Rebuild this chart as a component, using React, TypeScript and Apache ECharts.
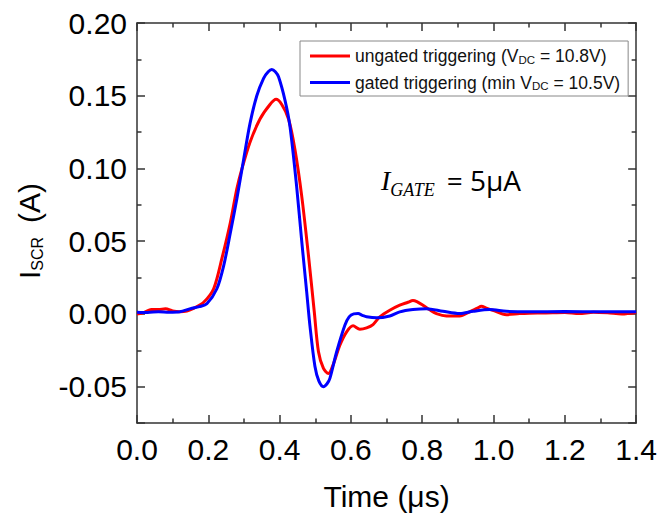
import React, { useEffect, useRef } from 'react';
import * as echarts from 'echarts';

// Time axis (µs) and current (A)
const timeUngated = [
  0.0, 0.02, 0.04, 0.06, 0.08, 0.1, 0.12, 0.14, 0.16, 0.187, 0.215, 0.238, 0.262, 0.28, 0.294,
  0.317, 0.345, 0.373, 0.39, 0.406, 0.425, 0.443, 0.462, 0.481, 0.497, 0.509, 0.523, 0.537,
  0.55, 0.569, 0.588, 0.606, 0.625, 0.644, 0.662, 0.681, 0.709, 0.737, 0.76, 0.774, 0.785,
  0.802, 0.82, 0.84, 0.868, 0.905, 0.933, 0.955, 0.966, 0.98, 0.998, 1.036, 1.073, 1.1, 1.147,
  1.2, 1.24, 1.28, 1.32, 1.36, 1.4,
];
const currentUngated = [
  0.0, 0.001, 0.003, 0.003, 0.0035, 0.002, 0.0015, 0.002, 0.004, 0.008, 0.0173, 0.038, 0.063,
  0.086, 0.0995, 0.118, 0.134, 0.144, 0.1475, 0.144, 0.134, 0.113, 0.081, 0.04, 0.002, -0.026,
  -0.0375, -0.041, -0.035, -0.0215, -0.0123, -0.0082, -0.0105, -0.0096, -0.0073, -0.002, 0.0025,
  0.006, 0.008, 0.0093, 0.0085, 0.006, 0.003, 0.0002, -0.0014, -0.0014, 0.0014, 0.004, 0.0052,
  0.004, 0.0025, -0.0005, 0.0002, 0.0005, 0.0007, 0.001, 0.0002, 0.0012, 0.0008, 0.0, 0.001,
];

const timeGated = [
  0.0, 0.03, 0.06, 0.09, 0.12, 0.15, 0.175, 0.196, 0.224, 0.243, 0.262, 0.28, 0.299, 0.317,
  0.336, 0.355, 0.368, 0.378, 0.388, 0.397, 0.415, 0.429, 0.448, 0.462, 0.476, 0.485, 0.499,
  0.51, 0.523, 0.533, 0.541, 0.56, 0.583, 0.595, 0.608, 0.62, 0.632, 0.644, 0.672, 0.709,
  0.737, 0.774, 0.812, 0.858, 0.905, 0.943, 0.989, 1.036, 1.1, 1.2, 1.3, 1.4,
];
const currentGated = [
  0.0012, 0.001, 0.0015, 0.0012, 0.0015, 0.0036, 0.005, 0.007, 0.0173, 0.033, 0.056, 0.079,
  0.106, 0.131, 0.15, 0.162, 0.1665, 0.168, 0.1665, 0.163, 0.147, 0.129, 0.087, 0.05, 0.015,
  -0.008, -0.036, -0.046, -0.05, -0.048, -0.0443, -0.026, -0.0078, -0.002, 0.0, 0.0002, -0.001,
  -0.002, -0.0027, -0.0014, 0.0014, 0.003, 0.0036, 0.0018, 0.0002, 0.0018, 0.003, 0.0018,
  0.0014, 0.0016, 0.0015, 0.0014,
];

const seriesNames = [
  'ungated triggering (VDC = 10.8V)',
  'gated triggering (min VDC = 10.5V)',
];
const seriesColors = ['#ff0000', '#0000ff'];

const X_MIN = 0;
const X_MAX = 1.4;
const X_STEP = 0.2;
const Y_MIN = -0.075;
const Y_MAX = 0.2;
const Y_STEP = 0.05;

const SANS = "'Liberation Sans', Arial, sans-serif";
const SERIF = "'Liberation Serif', 'Times New Roman', serif";
const AXIS_COLOR = '#333';

export default function App() {
  const ref = useRef<HTMLDivElement>(null);

  useEffect(() => {
    if (!ref.current) return;
    const chart = echarts.init(ref.current, undefined, { renderer: 'svg' });

    const tickStyle = { color: AXIS_COLOR, width: 1.5 };
    const baseX = {
      type: 'value' as const,
      min: X_MIN,
      max: X_MAX,
      interval: X_STEP,
      axisLine: { show: true, onZero: false, lineStyle: tickStyle },
      axisTick: { show: true, inside: true, length: 8, lineStyle: tickStyle },
      minorTick: { show: true, splitNumber: 2, length: 4.5, lineStyle: tickStyle },
      splitLine: { show: false },
      minorSplitLine: { show: false },
    };
    const baseY = {
      type: 'value' as const,
      min: Y_MIN,
      max: Y_MAX,
      minInterval: Y_STEP,
      maxInterval: Y_STEP,
      splitNumber: 5,
      axisLine: { show: true, onZero: false, lineStyle: tickStyle },
      axisTick: { show: true, inside: true, length: 8, lineStyle: tickStyle },
      minorTick: { show: true, splitNumber: 2, length: 4.5, lineStyle: tickStyle },
      splitLine: { show: false },
      minorSplitLine: { show: false },
    };

    const legendRich = {
      n: { fontSize: 17.5, lineHeight: 22, fontFamily: SANS, color: '#111' },
      s: { fontSize: 11.5, fontFamily: SANS, color: '#111', padding: [7, 0, 0, 0] },
    };

    chart.setOption({
      animation: false,
      backgroundColor: '#fff',
      grid: { left: 137, right: 23, top: 23, bottom: 92, containLabel: false },
      xAxis: [
        {
          ...baseX,
          position: 'bottom',
          name: 'Time (μs)',
          nameLocation: 'middle',
          nameGap: 58,
          nameTextStyle: { fontSize: 30, fontFamily: SANS, color: '#000' },
          axisLabel: {
            show: true,
            margin: 11,
            fontSize: 30,
            fontFamily: SANS,
            color: '#000',
            formatter: (v: number) => v.toFixed(1),
          },
        },
        { ...baseX, position: 'top', axisLabel: { show: false } },
      ],
      yAxis: [
        {
          ...baseY,
          position: 'left',
          axisLabel: {
            show: true,
            margin: 10,
            fontSize: 30,
            fontFamily: SANS,
            color: '#000',
            showMinLabel: false,
            formatter: (v: number) => v.toFixed(2),
          },
        },
        { ...baseY, position: 'right', axisLabel: { show: false } },
      ],
      legend: {
        orient: 'vertical',
        left: 300,
        top: 41,
        padding: [6, 8, 4, 10],
        itemGap: 8,
        itemWidth: 40,
        itemHeight: 3,
        icon: 'rect',
        borderColor: '#888',
        borderWidth: 1,
        borderRadius: 0,
        backgroundColor: '#fff',
        data: seriesNames,
        textStyle: { rich: legendRich },
        formatter: (name: string) =>
          name === seriesNames[0]
            ? '{n|ungated triggering (V}{s|DC}{n| = 10.8V)}'
            : '{n|gated triggering (min V}{s|DC}{n| = 10.5V)}',
      },
      graphic: [
        {
          type: 'text',
          x: 29,
          y: 231,
          rotation: Math.PI / 2,
          style: {
            text: '{m|I}{s|SCR}{p|(A)}',
            align: 'center',
            verticalAlign: 'middle',
            rich: {
              m: { fontSize: 30, fontFamily: SANS, fill: '#000', color: '#000' },
              s: { fontSize: 16, fontFamily: SANS, fill: '#000', color: '#000', padding: [16, 0, 0, 0] },
              p: { fontSize: 30, fontFamily: SANS, fill: '#000', color: '#000', padding: [0, 0, 0, 14] },
            },
          },
        },
        {
          type: 'text',
          x: 381,
          y: 180,
          style: {
            text: '{i|I}{g|GATE}{n|= 5μA}',
            align: 'left',
            verticalAlign: 'middle',
            rich: {
              i: { fontSize: 28, fontFamily: SERIF, fontStyle: 'italic', fill: '#000', color: '#000' },
              g: {
                fontSize: 18,
                fontFamily: SERIF,
                fontStyle: 'italic',
                fill: '#000',
                color: '#000',
                padding: [20, 0, 0, 0],
              },
              n: {
                fontSize: 28,
                fontFamily: "'Open Sans', sans-serif",
                fill: '#000',
                color: '#000',
                padding: [0, 0, 0, 12],
              },
            },
          },
        },
      ],
      series: [
        {
          name: seriesNames[0],
          type: 'line',
          xAxisIndex: 0,
          yAxisIndex: 0,
          data: timeUngated.map((t, i) => [t, currentUngated[i]]),
          showSymbol: false,
          symbol: 'none',
          smooth: 0.3,
          color: seriesColors[0],
          lineStyle: { color: seriesColors[0], width: 3 },
        },
        {
          name: seriesNames[1],
          type: 'line',
          xAxisIndex: 0,
          yAxisIndex: 0,
          data: timeGated.map((t, i) => [t, currentGated[i]]),
          showSymbol: false,
          symbol: 'none',
          smooth: 0.3,
          color: seriesColors[1],
          lineStyle: { color: seriesColors[1], width: 3 },
        },
      ],
    });

    return () => {
      chart.dispose();
    };
  }, []);

  return (
    <div
      ref={ref}
      style={{ position: 'absolute', left: 0, top: 0, width: 660, height: 516, background: '#fff' }}
    />
  );
}
